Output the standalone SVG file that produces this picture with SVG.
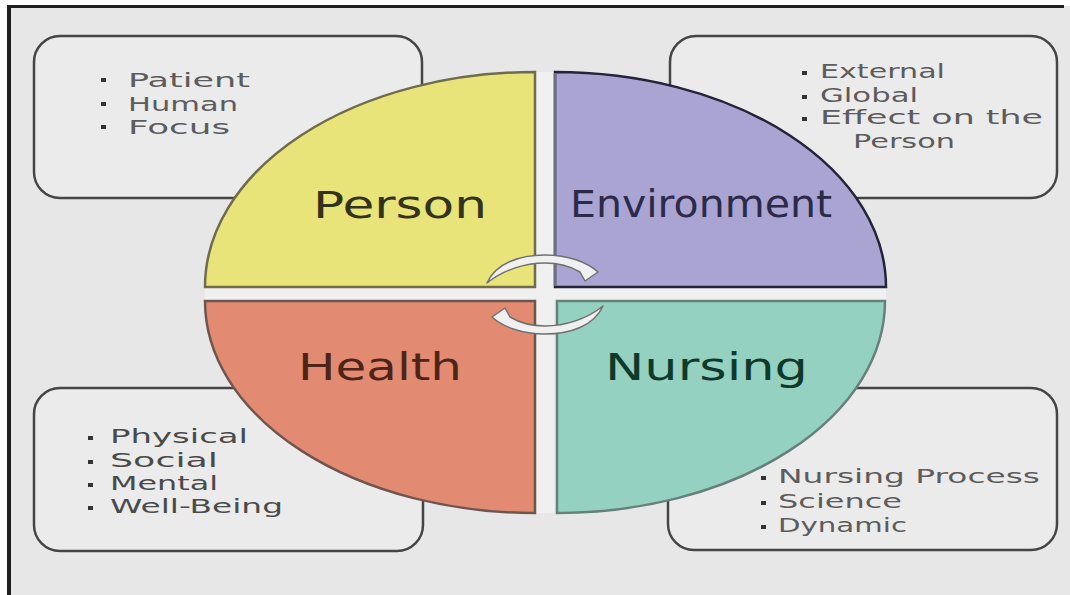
<svg xmlns="http://www.w3.org/2000/svg" xmlns:xlink="http://www.w3.org/1999/xlink" width="1070" height="595" viewBox="0 0 1070 595">
  <style>
    .box { fill: #ebebeb; stroke: #454545; stroke-width: 2.5; }
    .item { font-family: "DejaVu Sans", "Liberation Sans", sans-serif; font-size: 19px; fill: #5c5c5c; }
    .item-dark { fill: #4a4a4a; }
    .bullet { fill: #333; }
    .label { font-family: "DejaVu Sans", "Liberation Sans", sans-serif; font-size: 37px; }
    .cycle { fill: #f0f0f0; stroke: #707070; stroke-width: 1.5; stroke-linejoin: round; }
  </style>
  <defs>
    <!-- curved arrow with a one-sided barb at its head -->
    <path id="curved-arrow" d="M 487 283 C 496 263 520 255 545 255 C 568 255 587 262 598 272 L 585 281 L 580 272 C 570 266 558 263 545 263 C 525 263 503 270 487 283 Z"/>
  </defs>

  <!-- page and frame -->
  <rect x="0" y="0" width="1070" height="595" fill="#ffffff"/>
  <rect x="9" y="6" width="1061" height="589" fill="#e7e7e7"/>
  <line x1="9" y1="6.5" x2="1064" y2="6.5" stroke="#1e1e1e" stroke-width="3"/>
  <line x1="9" y1="5" x2="9" y2="595" stroke="#1e1e1e" stroke-width="4"/>

  <!-- description boxes (drawn behind the quadrants) -->
  <g id="box-person">
    <rect class="box" x="34" y="36" width="388" height="162" rx="26"/>
    <rect class="bullet" x="101" y="78" width="5" height="4"/>
    <rect class="bullet" x="101" y="102" width="5" height="4"/>
    <rect class="bullet" x="101" y="125" width="5" height="4"/>
    <text class="item" x="128" y="87" textLength="122" lengthAdjust="spacingAndGlyphs">Patient</text>
    <text class="item" x="128" y="111" textLength="110" lengthAdjust="spacingAndGlyphs">Human</text>
    <text class="item" x="128" y="134" textLength="102" lengthAdjust="spacingAndGlyphs">Focus</text>
  </g>

  <g id="box-environment">
    <rect class="box" x="670" y="36" width="387" height="162" rx="26"/>
    <rect class="bullet" x="802" y="71" width="5" height="4"/>
    <rect class="bullet" x="802" y="95" width="5" height="4"/>
    <rect class="bullet" x="802" y="117" width="5" height="4"/>
    <text class="item" x="820" y="78" textLength="125" lengthAdjust="spacingAndGlyphs">External</text>
    <text class="item" x="820" y="102" textLength="98" lengthAdjust="spacingAndGlyphs">Global</text>
    <text class="item" x="820" y="124" textLength="223" lengthAdjust="spacingAndGlyphs">Effect on the</text>
    <text class="item" x="853" y="148" textLength="102" lengthAdjust="spacingAndGlyphs">Person</text>
  </g>

  <g id="box-health">
    <rect class="box" x="34" y="388" width="389" height="163" rx="26"/>
    <rect class="bullet" x="88" y="436" width="5" height="4"/>
    <rect class="bullet" x="88" y="460" width="5" height="4"/>
    <rect class="bullet" x="88" y="483" width="5" height="4"/>
    <rect class="bullet" x="88" y="506" width="5" height="4"/>
    <text class="item item-dark" x="110" y="443" textLength="138" lengthAdjust="spacingAndGlyphs">Physical</text>
    <text class="item item-dark" x="110" y="467" textLength="108" lengthAdjust="spacingAndGlyphs">Social</text>
    <text class="item item-dark" x="110" y="490" textLength="108" lengthAdjust="spacingAndGlyphs">Mental</text>
    <text class="item item-dark" x="110" y="513" textLength="173" lengthAdjust="spacingAndGlyphs">Well-Being</text>
  </g>

  <g id="box-nursing">
    <rect class="box" x="668" y="388" width="389" height="162" rx="26"/>
    <rect class="bullet" x="761" y="476" width="5" height="4"/>
    <rect class="bullet" x="761" y="501" width="5" height="4"/>
    <rect class="bullet" x="761" y="525" width="5" height="4"/>
    <text class="item" x="778" y="483" textLength="262" lengthAdjust="spacingAndGlyphs">Nursing Process</text>
    <text class="item" x="778" y="508" textLength="124" lengthAdjust="spacingAndGlyphs">Science</text>
    <text class="item" x="778" y="532" textLength="129" lengthAdjust="spacingAndGlyphs">Dynamic</text>
  </g>

  <!-- light cross between the quadrants -->
  <rect x="536" y="72" width="18" height="441" fill="#f1f0f0"/>
  <rect x="205" y="288" width="681" height="12" fill="#f1f0f0"/>

  <!-- quadrants of the central ellipse -->
  <g id="person">
    <path d="M 535 287 L 205 287 A 330 215 0 0 1 535 72 Z" fill="#e8e47a" stroke="#6f6c4c" stroke-width="2.5"/>
    <text class="label" x="313" y="218" textLength="174" lengthAdjust="spacingAndGlyphs" fill="#33321a">Person</text>
  </g>
  <g id="environment">
    <path d="M 555 287 L 555 72 A 331 215 0 0 1 886 287 Z" fill="#aaa4d3" stroke="#24233a" stroke-width="2.5"/>
    <line x1="555" y1="73" x2="555" y2="286" stroke="#6e6c80" stroke-width="2.5"/>
    <text class="label" x="570" y="217" textLength="262" lengthAdjust="spacingAndGlyphs" fill="#2b2a4a">Environment</text>
  </g>
  <g id="health">
    <path d="M 535 301 L 535 513 A 330 212 0 0 1 205 301 Z" fill="#e38b72" stroke="#6e5650" stroke-width="2.5"/>
    <text class="label" x="298" y="380" textLength="164" lengthAdjust="spacingAndGlyphs" fill="#4e2418">Health</text>
  </g>
  <g id="nursing">
    <path d="M 557 301 L 885 301 A 328 212 0 0 1 557 513 Z" fill="#94d1c1" stroke="#66807a" stroke-width="2.5"/>
    <text class="label" x="605" y="380" textLength="203" lengthAdjust="spacingAndGlyphs" fill="#0e3a2c">Nursing</text>
  </g>

  <!-- cycle arrows in the centre -->
  <g id="connectors">
    <use xlink:href="#curved-arrow" class="cycle"/>
    <use xlink:href="#curved-arrow" class="cycle" transform="rotate(180 545 294.5)"/>
  </g>
</svg>
